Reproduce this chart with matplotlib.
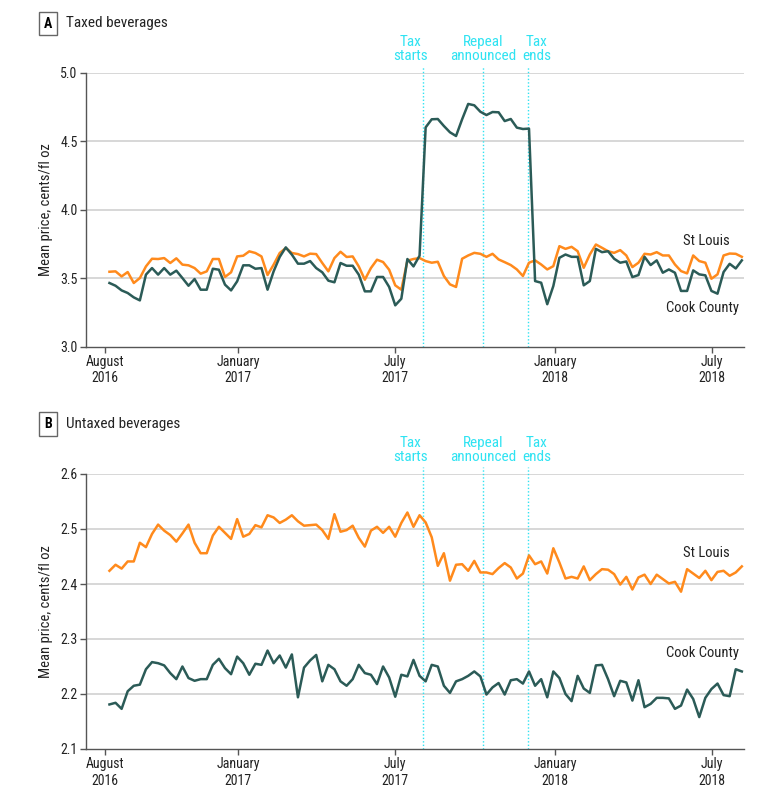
import numpy as np
import pandas as pd
import matplotlib
matplotlib.use("Agg")
import matplotlib.pyplot as plt
from matplotlib import font_manager, transforms

# weekly mean prices, cents/fl oz
taxed_stl = [
    3.547, 3.550, 3.513, 3.545, 3.465, 3.501, 3.586, 3.642, 3.640, 3.647,
    3.611, 3.645, 3.599, 3.594, 3.574, 3.533, 3.550, 3.640, 3.640, 3.509,
    3.543, 3.659, 3.664, 3.696, 3.684, 3.659, 3.523, 3.599, 3.684, 3.720,
    3.684, 3.676, 3.659, 3.679, 3.676, 3.611, 3.550, 3.647, 3.693, 3.655,
    3.659, 3.586, 3.489, 3.574, 3.635, 3.618, 3.562, 3.448, 3.416, 3.628,
    3.640, 3.647,
    3.625, 3.613, 3.620, 3.516, 3.455, 3.436, 3.642, 3.666, 3.685, 3.678,
    3.656, 3.678, 3.637, 3.617, 3.596, 3.564, 3.516, 3.613, 3.630, 3.600,
    3.564, 3.588, 3.734, 3.714, 3.729, 3.697, 3.576, 3.673, 3.746, 3.722,
    3.697, 3.685, 3.705, 3.666, 3.581, 3.613, 3.678, 3.673, 3.690, 3.666,
    3.666, 3.600, 3.552, 3.535, 3.666, 3.625, 3.613, 3.496, 3.528, 3.666,
    3.680, 3.678, 3.656,
]
taxed_cook = [
    3.465, 3.445, 3.411, 3.392, 3.360, 3.338, 3.526, 3.574, 3.526, 3.574,
    3.526, 3.555, 3.501, 3.445, 3.494, 3.416, 3.416, 3.569, 3.562, 3.453,
    3.411, 3.477, 3.594, 3.594, 3.569, 3.574, 3.416, 3.550, 3.655, 3.725,
    3.672, 3.606, 3.606, 3.625, 3.574, 3.543, 3.482, 3.470, 3.611, 3.591,
    3.591, 3.526, 3.404, 3.404, 3.509, 3.509, 3.436, 3.302, 3.350, 3.640,
    3.586, 3.664,
    4.601, 4.660, 4.662, 4.611, 4.565, 4.538, 4.660, 4.772, 4.762, 4.715,
    4.691, 4.713, 4.711, 4.647, 4.662, 4.599, 4.589, 4.592,
    3.479, 3.467, 3.310, 3.443, 3.649, 3.673, 3.656, 3.656, 3.448, 3.479,
    3.714, 3.690, 3.697, 3.642, 3.613, 3.622, 3.508, 3.523, 3.656, 3.596,
    3.630, 3.540, 3.564, 3.540, 3.407, 3.407, 3.557, 3.528, 3.521, 3.407,
    3.387, 3.545, 3.605, 3.571, 3.630,
]
untaxed_stl = [
    2.424, 2.435, 2.428, 2.441, 2.441, 2.475, 2.467, 2.491, 2.508, 2.497,
    2.489, 2.477, 2.492, 2.508, 2.475, 2.456, 2.456, 2.488, 2.504, 2.493,
    2.482, 2.518, 2.486, 2.491, 2.507, 2.503, 2.525, 2.521, 2.511, 2.517,
    2.525, 2.514, 2.506, 2.507, 2.508, 2.498, 2.482, 2.527, 2.495, 2.498,
    2.506, 2.484, 2.468, 2.497, 2.504, 2.493, 2.504, 2.486, 2.511, 2.530,
    2.504, 2.525, 2.512,
    2.485, 2.433, 2.456, 2.406, 2.435, 2.436, 2.424, 2.442, 2.421, 2.421,
    2.418, 2.429, 2.438, 2.430, 2.410, 2.419, 2.452, 2.436, 2.441, 2.419,
    2.465, 2.439, 2.410, 2.413, 2.410, 2.432, 2.407, 2.418, 2.427, 2.426,
    2.418, 2.399, 2.413, 2.390, 2.412, 2.417, 2.400, 2.417, 2.409, 2.401,
    2.404, 2.386, 2.427, 2.419, 2.411, 2.424, 2.407, 2.422, 2.424, 2.415,
    2.421, 2.432,
]
untaxed_cook = [
    2.181, 2.184, 2.173, 2.205, 2.215, 2.217, 2.245, 2.258, 2.256, 2.252,
    2.238, 2.227, 2.250, 2.229, 2.224, 2.227, 2.227, 2.253, 2.264, 2.247,
    2.236, 2.268, 2.256, 2.235, 2.255, 2.253, 2.279, 2.256, 2.270, 2.248,
    2.272, 2.194, 2.248, 2.261, 2.271, 2.223, 2.253, 2.245, 2.223, 2.215,
    2.227, 2.253, 2.238, 2.235, 2.218, 2.250, 2.230, 2.195, 2.235, 2.232,
    2.262, 2.233, 2.223,
    2.253, 2.250, 2.215, 2.202, 2.223, 2.227, 2.233, 2.241, 2.232, 2.199,
    2.212, 2.220, 2.199, 2.225, 2.227, 2.219, 2.241, 2.215, 2.227, 2.194,
    2.241, 2.229, 2.200, 2.187, 2.233, 2.210, 2.202, 2.252, 2.253, 2.227,
    2.196, 2.224, 2.221, 2.188, 2.225, 2.176, 2.182, 2.193, 2.193, 2.192,
    2.173, 2.179, 2.208, 2.191, 2.158, 2.193, 2.209, 2.219, 2.198, 2.196,
    2.245, 2.241,
]

weeks = pd.date_range("2016-08-06", periods=len(taxed_stl), freq="7D")

events = ["2017-08-02", "2017-10-10", "2017-12-01"]
event_labels = ["Tax\nstarts", "Repeal\nannounced", "Tax\nends"]
event_text_x = ["2017-07-19", "2017-10-10", "2017-12-11"]

tick_dates = ["2016-08-01", "2017-01-01", "2017-07-01", "2018-01-01", "2018-07-01"]
tick_labels = ["August\n2016", "January\n2017", "July\n2017", "January\n2018", "July\n2018"]

# the journal uses a condensed face; look for a narrow one, else shrink a bit
entries = font_manager.fontManager.ttflist
fam, stretch = None, "normal"
for want in ["Liberation Sans Narrow", "Roboto Condensed", "Open Sans Condensed",
             "Noto Sans Condensed", "Arial Narrow", "Nimbus Sans Narrow"]:
    if any(f.name == want for f in entries):
        fam = want
        break
if fam is None:
    for f in entries:
        if "condensed" in str(f.stretch) and f.name in (
                "DejaVu Sans", "Noto Sans", "Roboto", "Open Sans", "Liberation Sans", "Lato"):
            fam, stretch = f.name, "condensed"
            break
narrow = fam is not None
if fam is None:
    fam = "DejaVu Sans"
plt.rcParams["font.family"] = [fam, "DejaVu Sans"]
plt.rcParams["font.stretch"] = stretch

fs_tick = 10 if narrow else 9.5
fs_text = 10.5 if narrow else 10

ORANGE = "#ff8a1c"
GREEN = "#2b5b57"
CYAN = "#2fe3f2"
GRID = "#d4d4d4"
SPINE = "#555555"

fig = plt.figure(figsize=(7.8, 7.96), dpi=100)
axA = fig.add_axes([86 / 780, 1 - 346.7 / 796, 658 / 780, 274 / 796])
axB = fig.add_axes([86 / 780, 1 - 749 / 796, 658 / 780, 275 / 796])


def style_axis(ax, ylim, yticks):
    ax.set_xlim(pd.Timestamp("2016-07-10"), pd.Timestamp("2018-08-06 12:00"))
    ax.set_ylim(*ylim)
    ax.set_yticks(yticks)
    ax.set_yticklabels(["%.1f" % v for v in yticks])
    ax.set_xticks([pd.Timestamp(d) for d in tick_dates])
    ax.set_xticklabels(tick_labels)
    for s in ["top", "right"]:
        ax.spines[s].set_visible(False)
    for s in ["left", "bottom"]:
        ax.spines[s].set_color(SPINE)
        ax.spines[s].set_linewidth(1.0)
    ax.tick_params(axis="both", direction="out", length=4, width=1.0,
                   color=SPINE, labelsize=fs_tick, labelcolor="#222222", pad=2)
    for v in yticks[1:]:
        ax.axhline(v, color=GRID, lw=1.3, zorder=0)
    ax.set_ylabel("Mean price, cents/fl oz", fontsize=fs_text, color="#222222")
    ax.yaxis.set_label_coords(-0.05, 0.5)
    trans = transforms.blended_transform_factory(ax.transData, ax.transAxes)
    for d, lab, tx in zip(events, event_labels, event_text_x):
        ax.axvline(pd.Timestamp(d), ymin=0, ymax=1.025, color=CYAN, lw=1.0,
                   ls=(0, (1, 1.5)), clip_on=False, zorder=1)
        ax.text(pd.Timestamp(tx), 1.035, lab, transform=trans, ha="center",
                va="bottom", color=CYAN, fontsize=fs_text + 0.5, linespacing=1.05)


style_axis(axA, (3.0, 5.0), [3.0, 3.5, 4.0, 4.5, 5.0])
style_axis(axB, (2.1, 2.6), [2.1, 2.2, 2.3, 2.4, 2.5, 2.6])

axA.plot(weeks, taxed_stl, color=ORANGE, lw=1.8, zorder=3)
axA.plot(weeks, taxed_cook, color=GREEN, lw=1.8, zorder=4)
axB.plot(weeks, untaxed_stl, color=ORANGE, lw=1.8, zorder=3)
axB.plot(weeks, untaxed_cook, color=GREEN, lw=1.8, zorder=4)

lab_kw = dict(ha="right", va="center", fontsize=fs_text, color="#222222")
axA.text(pd.Timestamp("2018-07-21"), 3.77, "St Louis", **lab_kw)
axA.text(pd.Timestamp("2018-08-01"), 3.283, "Cook County", **lab_kw)
axB.text(pd.Timestamp("2018-07-21"), 2.457, "St Louis", **lab_kw)
axB.text(pd.Timestamp("2018-08-01"), 2.275, "Cook County", **lab_kw)

box = dict(boxstyle="square,pad=0.35", fc="white", ec="#666666", lw=1.0)
for letter, title, yc in [("A", "Taxed beverages", 23.5), ("B", "Untaxed beverages", 424)]:
    fig.text(48 / 780, 1 - yc / 796, letter, ha="center", va="center",
             fontsize=fs_tick, fontweight="bold", bbox=box)
    fig.text(66 / 780, 1 - yc / 796, title, ha="left", va="center",
             fontsize=fs_text + 0.5, color="#222222")

fig.savefig("out.png", dpi=100)
